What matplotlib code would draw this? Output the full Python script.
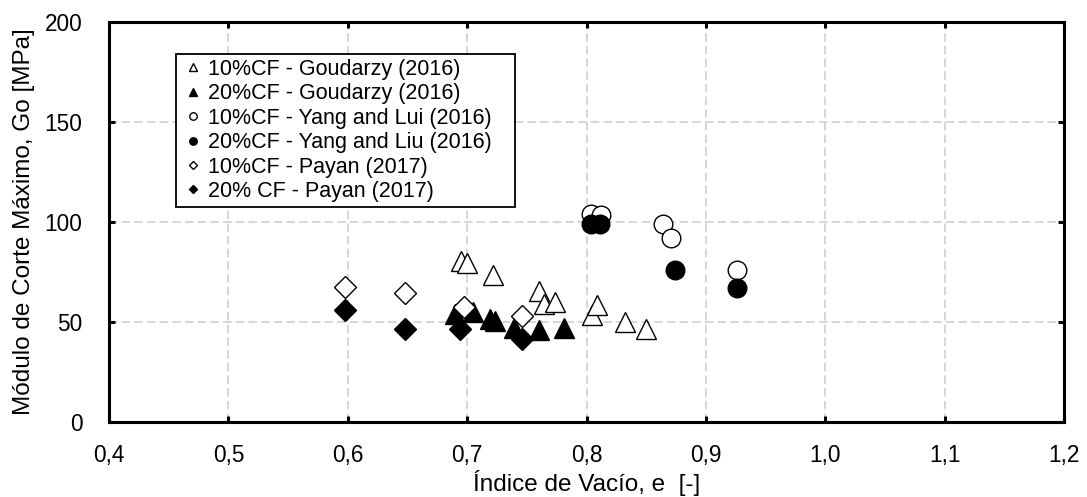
import matplotlib
matplotlib.use("Agg")
import matplotlib.pyplot as plt
from matplotlib.ticker import FixedLocator, FixedFormatter

plt.rcParams["font.family"] = ["Liberation Sans", "DejaVu Sans"]

# Void ratio e [-] and small-strain shear modulus Go [MPa]
goudarzy_10_e = [0.695, 0.700, 0.722, 0.760, 0.764, 0.774, 0.805, 0.809, 0.832, 0.850]
goudarzy_10_g = [80.5, 79.5, 73.3, 65.5, 58.8, 60.0, 53.5, 58.7, 50.0, 46.3]

goudarzy_20_e = [0.690, 0.705, 0.719, 0.723, 0.739, 0.760, 0.781]
goudarzy_20_g = [54.0, 55.0, 51.5, 50.5, 47.0, 46.0, 46.8]

yang_10_e = [0.804, 0.812, 0.864, 0.871, 0.926]
yang_10_g = [103.8, 103.5, 99.0, 91.8, 76.0]

yang_20_e = [0.804, 0.811, 0.874, 0.926]
yang_20_g = [98.8, 98.8, 75.8, 67.0]

payan_10_e = [0.598, 0.648, 0.697, 0.746]
payan_10_g = [67.5, 64.3, 57.5, 53.0]

payan_20_e = [0.598, 0.648, 0.694, 0.746]
payan_20_g = [55.8, 46.7, 46.3, 41.3]

series_labels = [
    "10%CF - Goudarzy (2016)",
    "20%CF - Goudarzy (2016)",
    "10%CF - Yang and Lui (2016)",
    "20%CF - Yang and Liu (2016)",
    "10%CF - Payan (2017)",
    "20% CF - Payan (2017)",
]

x_ticks = [0.4, 0.5, 0.6, 0.7, 0.8, 0.9, 1.0, 1.1, 1.2]
x_tick_labels = ["0,4", "0,5", "0,6", "0,7", "0,8", "0,9", "1,0", "1,1", "1,2"]
y_ticks = [0, 50, 100, 150, 200]
y_tick_labels = ["0", "50", "100", "150", "200"]

fig = plt.figure(figsize=(10.87, 4.97), dpi=100)
ax = fig.add_axes([109 / 1087, 1 - 422 / 497, (1064 - 109) / 1087, 400 / 497])

series = [
    (goudarzy_10_e, goudarzy_10_g, "^", "white", 14.6),
    (goudarzy_20_e, goudarzy_20_g, "^", "black", 14.6),
    (yang_10_e, yang_10_g, "o", "white", 13.4),
    (yang_20_e, yang_20_g, "o", "black", 13.4),
    (payan_10_e, payan_10_g, "D", "white", 10.8),
    (payan_20_e, payan_20_g, "D", "black", 10.8),
]
for (xs, ys, mk, fc, ms), lab in zip(series, series_labels):
    ax.plot(xs, ys, linestyle="none", marker=mk, markersize=ms,
            markerfacecolor=fc, markeredgecolor="black", markeredgewidth=1.0,
            label=lab, zorder=3, clip_on=False)

ax.set_xlim(0.4, 1.2)
ax.set_ylim(0, 200)
ax.xaxis.set_major_locator(FixedLocator(x_ticks))
ax.xaxis.set_major_formatter(FixedFormatter(x_tick_labels))
ax.yaxis.set_major_locator(FixedLocator(y_ticks))
ax.yaxis.set_major_formatter(FixedFormatter(y_tick_labels))

ax.grid(True, color="#cccccc", linewidth=1.1, linestyle=(0, (5.5, 2.8)), zorder=0)
ax.set_axisbelow(True)

for sp in ax.spines.values():
    sp.set_linewidth(2.2)
    sp.set_color("black")

ax.tick_params(axis="both", which="major", direction="in", length=4.5, width=2.2,
               top=True, right=True, labelsize=16.3, colors="black")
ax.tick_params(axis="x", pad=16)
ax.tick_params(axis="y", pad=19)

ax.set_xlabel("Índice de Vacío, e  [-]", fontsize=17.5)
ax.set_ylabel("Módulo de Corte Máximo, Go [MPa]", fontsize=17.5)
ax.xaxis.set_label_coords(0.5, -0.12)
ax.yaxis.set_label_coords(-0.078, 0.5)

leg_x0 = (176 - 109) / 955
leg_w = (515 - 176) / 955
leg_top = (422 - 54) / 400
leg = ax.legend(loc="upper left", bbox_to_anchor=(leg_x0, 0.0, leg_w, leg_top),
                mode="expand", borderaxespad=0.0, fontsize=15.5, markerscale=0.4,
                handlelength=1.1, handletextpad=0.15, labelspacing=0.16,
                borderpad=0.22, frameon=True, fancybox=False, numpoints=1)
frame = leg.get_frame()
frame.set_edgecolor("black")
frame.set_linewidth(1.3)
frame.set_facecolor("white")
frame.set_alpha(1.0)
leg.set_zorder(5)

fig.savefig("out.png", dpi=100)
